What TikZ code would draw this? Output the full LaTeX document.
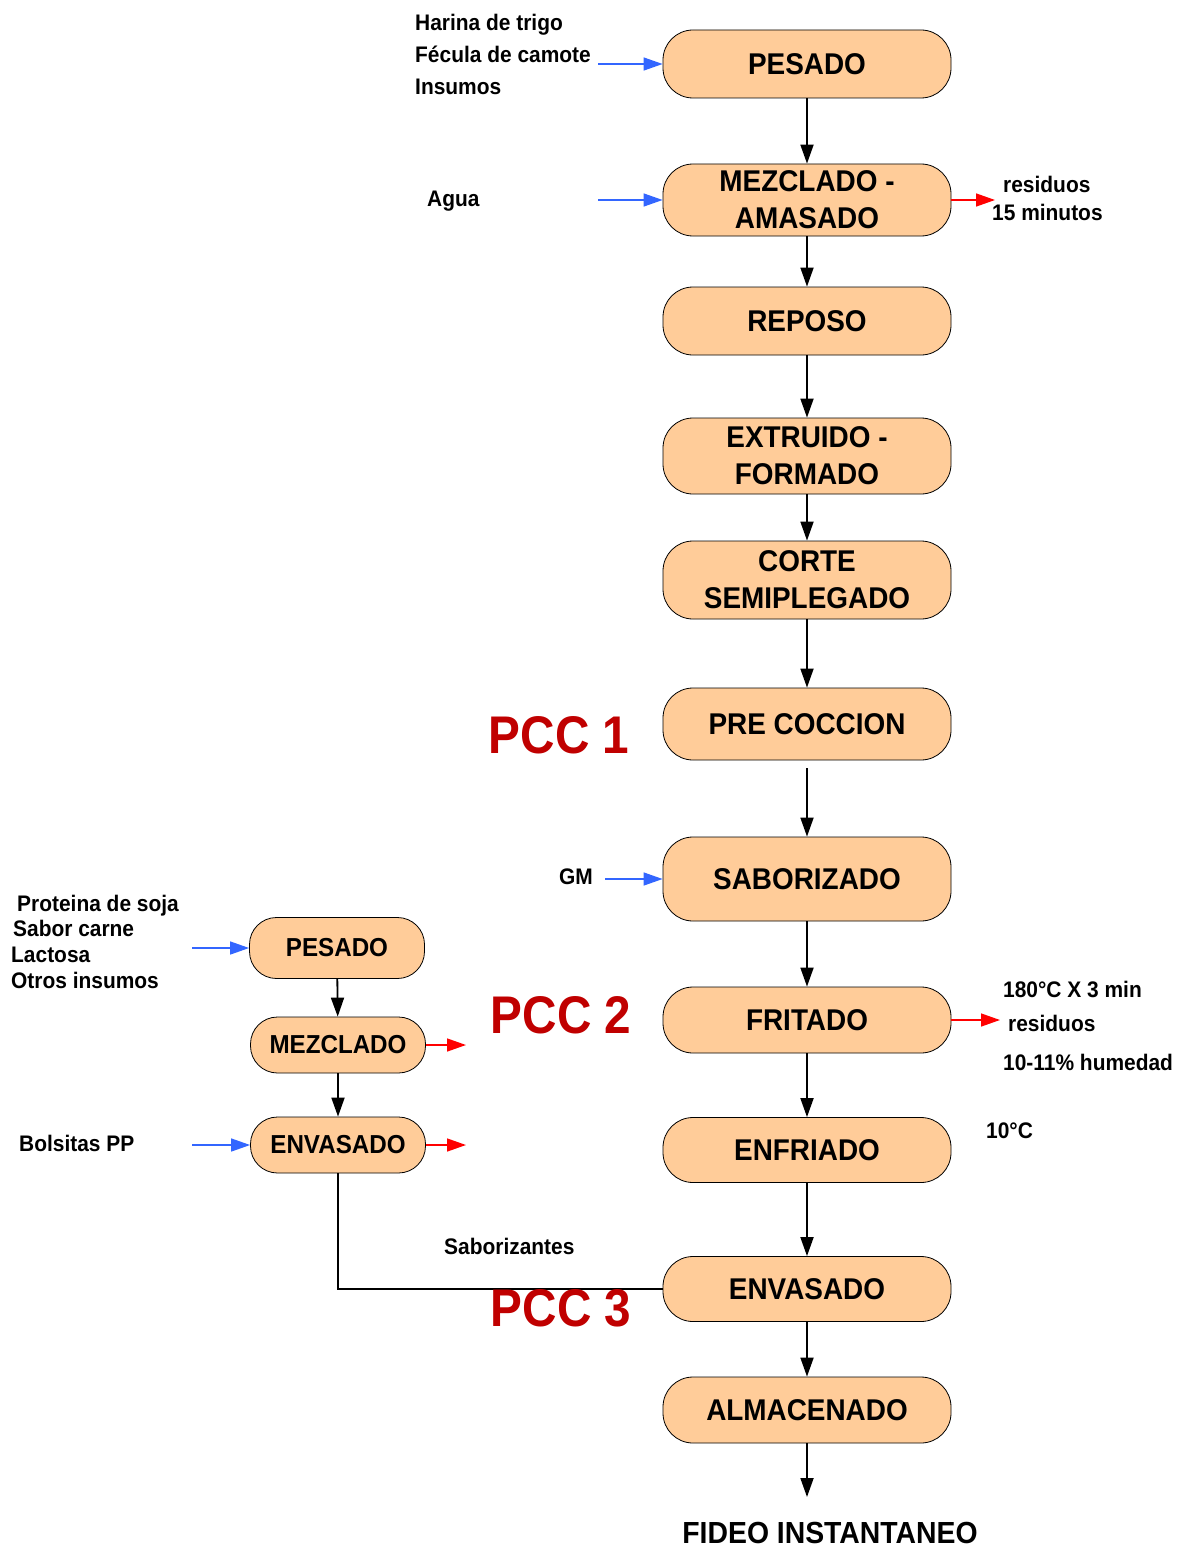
\documentclass[tikz,border=0pt]{standalone}
\usepackage{fontspec}
\setmainfont{Liberation Sans}[FakeStretch=0.93]
\newfontfamily\pccfont{Liberation Sans}[FakeStretch=0.9]
\usetikzlibrary{arrows.meta}
\definecolor{peach}{HTML}{FFCC99}
\definecolor{pccred}{HTML}{C00000}
\definecolor{inblue}{HTML}{3366FF}
\definecolor{outred}{HTML}{FF0000}

\begin{document}
\begin{tikzpicture}[x=1pt,y=-1pt,
  proc/.style={draw=black, line width=0.8pt, fill=peach, rounded corners=30pt,
    align=center, inner sep=0pt},
  procmain/.style={proc, minimum width=288pt, font=\fontsize{30}{37}\selectfont\bfseries},
  procside/.style={proc, minimum width=175pt, rounded corners=27pt, font=\fontsize{26}{30}\selectfont\bfseries},
  tip/.style={-{Triangle[length=19pt,width=13pt]}},
  flow/.style={tip, draw=black, line width=1.8pt},
  infeed/.style={tip, draw=inblue, fill=inblue, line width=1.4pt},
  outfeed/.style={tip, draw=outred, fill=outred, line width=1.4pt},
  link/.style={draw=black, line width=1.8pt},
  lbl/.style={anchor=mid west, yshift=-6pt, inner sep=0pt, font=\fontsize{22.5}{26}\selectfont\bfseries},
  pcc/.style={inner sep=0pt, text=pccred, font=\pccfont\fontsize{53}{60}\selectfont\bfseries},
  product/.style={inner sep=0pt, font=\fontsize{30.5}{36}\selectfont\bfseries}]
\useasboundingbox (0,0) rectangle (1188,1549);

% main process line
\node[procmain, minimum height=68pt] (pes)  at (807,64)   {PESADO};
\node[procmain, minimum height=72pt] (mez)  at (807,200)  {MEZCLADO -\\AMASADO};
\node[procmain, minimum height=68pt] (rep)  at (807,321)  {REPOSO};
\node[procmain, minimum height=76pt] (ext)  at (807,456)  {EXTRUIDO -\\FORMADO};
\node[procmain, minimum height=78pt] (cor)  at (807,580)  {CORTE\\SEMIPLEGADO};
\node[procmain, minimum height=72pt] (pre)  at (807,724)  {PRE COCCION};
\node[procmain, minimum height=84pt] (sab)  at (807,879)  {SABORIZADO};
\node[procmain, minimum height=66pt] (fri)  at (807,1020) {FRITADO};
\node[procmain, minimum height=65pt] (enf)  at (807,1150) {ENFRIADO};
\node[procmain, minimum height=65pt] (envm) at (807,1289) {ENVASADO};
\node[procmain, minimum height=66pt] (alm)  at (807,1410) {ALMACENADO};
\coordinate (prodin) at (807,1497);
\node[product] (prod) at (830,1533) {FIDEO INSTANTANEO};

\draw[flow] (pes) -- (mez);
\draw[flow] (mez) -- (rep);
\draw[flow] (rep) -- (ext);
\draw[flow] (ext) -- (cor);
\draw[flow] (cor) -- (pre);
\draw[flow, shorten <=8pt] (pre) -- (sab);
\draw[flow] (sab) -- (fri);
\draw[flow] (fri) -- (enf);
\draw[flow] (enf) -- (envm);
\draw[flow] (envm) -- (alm);
\draw[flow] (alm) -- (prodin);

% seasoning sachet line
\node[procside, minimum height=61pt] (pesl) at (337,948)  {PESADO};
\node[procside, minimum height=56pt] (mezl) at (338,1045) {MEZCLADO};
\node[procside, minimum height=56pt] (envl) at (338,1145) {ENVASADO};
\draw[flow] (pesl) -- (mezl);
\draw[flow] (mezl) -- (envl);
\draw[link] (envl.south) |- (envm.west);

% inputs
\coordinate (inpes) at (598,64);
\coordinate (inmez) at (598,200);
\coordinate (insab) at (605,879);
\coordinate (inpesl) at (192,948);
\coordinate (inenvl) at (192,1145);
\draw[infeed] (inpes) -- (pes);
\draw[infeed] (inmez) -- (mez);
\draw[infeed] (insab) -- (sab);
\draw[infeed] (inpesl) -- (pesl);
\draw[infeed] (inenvl) -- (envl);

% outputs
\coordinate (outmez) at (995,200);
\coordinate (outfri) at (1000,1020);
\coordinate (outmezl) at (466,1045);
\coordinate (outenvl) at (466,1145);
\draw[outfeed] (mez) -- (outmez);
\draw[outfeed] (fri) -- (outfri);
\draw[outfeed] (mezl) -- (outmezl);
\draw[outfeed] (envl) -- (outenvl);

% labels
\node[lbl] (l1) at (415,22) {Harina de trigo};
\node[lbl] (l2) at (415,54) {Fécula de camote};
\node[lbl] (l3) at (415,86) {Insumos};
\node[lbl] (l4) at (427,198) {Agua};
\node[lbl] (l5) at (1003,184) {residuos};
\node[lbl] (l6) at (992,212) {15 minutos};
\node[lbl] (l7) at (559,876) {GM};
\node[lbl] (l8) at (17,903) {Proteina de soja};
\node[lbl] (l9) at (13,928) {Sabor carne};
\node[lbl] (l10) at (11,954) {Lactosa};
\node[lbl] (l11) at (11,980) {Otros insumos};
\node[lbl] (l12) at (19,1143) {Bolsitas PP};
\node[lbl] (l13) at (1003,989) {180°C X 3 min};
\node[lbl] (l14) at (1008,1023) {residuos};
\node[lbl] (l15) at (1003,1062) {10-11\% humedad};
\node[lbl] (l16) at (986,1130) {10°C};
\node[lbl] (l17) at (444,1246) {Saborizantes};

% critical control points
\node[pcc] (pcc1) at (559,735)  {PCC 1};
\node[pcc] (pcc2) at (561,1015) {PCC 2};
\node[pcc] (pcc3) at (561,1308) {PCC 3};
\end{tikzpicture}
\end{document}
